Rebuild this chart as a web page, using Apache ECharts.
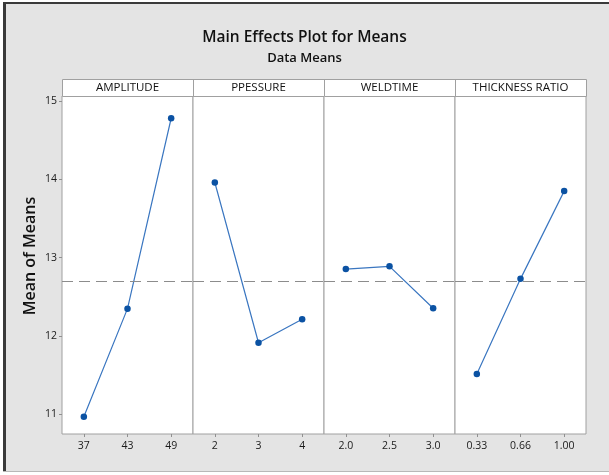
<!DOCTYPE html>
<html>
<head>
<meta charset="utf-8">
<script src="https://cdn.jsdelivr.net/npm/echarts@6/dist/echarts.min.js"></script>
<style>html,body{margin:0;padding:0;}#chart{width:609px;height:475px;}</style>
</head>
<body>
<div id="chart"></div>
<script>
// ---- data ----
const panelNames = ['AMPLITUDE', 'PPESSURE', 'WELDTIME', 'THICKNESS RATIO'];
const amplitudeLevels = ['37', '43', '49'];
const amplitudeMeans = [10.97, 12.35, 14.78];
const pressureLevels = ['2', '3', '4'];
const pressureMeans = [13.96, 11.915, 12.215];
const weldtimeLevels = ['2.0', '2.5', '3.0'];
const weldtimeMeans = [12.855, 12.89, 12.355];
const thicknessLevels = ['0.33', '0.66', '1.00'];
const thicknessMeans = [11.515, 12.73, 13.85];
const yTickValues = [11, 12, 13, 14, 15];

const levelsList = [amplitudeLevels, pressureLevels, weldtimeLevels, thicknessLevels];
const meansList = [amplitudeMeans, pressureMeans, weldtimeMeans, thicknessMeans];
const grandMean = amplitudeMeans.reduce((a, b) => a + b, 0) / amplitudeMeans.length;

// ---- layout ----
const FONT = 'Open Sans';
const panelLeft = 62, panelW = 131, gridTop = 96, gridH = 338;
const headerTop = 79;
const borderCol = '#a0a0a0';

const grids = [], xAxes = [], yAxes = [], series = [], graphics = [];
panelNames.forEach((name, i) => {
  grids.push({
    left: panelLeft + i * panelW, top: gridTop, width: panelW, height: gridH,
    show: true, backgroundColor: '#ffffff', borderColor: borderCol, borderWidth: 1
  });
  xAxes.push({
    type: 'category', gridIndex: i, data: levelsList[i], boundaryGap: true,
    axisLine: { show: false },
    axisTick: { show: true, alignWithLabel: true, length: 3, lineStyle: { color: '#909090' } },
    axisLabel: { fontFamily: FONT, fontSize: 10.5, color: '#1a1a1a', margin: 7 },
    splitLine: { show: false }
  });
  yAxes.push({
    type: 'value', gridIndex: i, min: 10.75, max: 15.064,
    axisLine: { show: false },
    axisTick: { show: i === 0, length: 3, customValues: yTickValues, lineStyle: { color: '#909090' } },
    axisLabel: { show: i === 0, customValues: yTickValues, fontFamily: FONT, fontSize: 10.5, color: '#1a1a1a', margin: 5 },
    splitLine: { show: false }
  });
  series.push({
    type: 'line', xAxisIndex: i, yAxisIndex: i, data: meansList[i],
    symbol: 'circle', symbolSize: 6.5,
    lineStyle: { color: '#3a76c0', width: 1.2 },
    itemStyle: { color: '#0b52a3' },
    animation: false,
    markLine: {
      silent: true, symbol: 'none', label: { show: false },
      lineStyle: { color: '#8c8c8c', width: 1, type: [11, 6] },
      data: [{ yAxis: grandMean }]
    }
  });
});

// header strip
graphics.push({
  type: 'rect', shape: { x: panelLeft + 0.5, y: headerTop + 0.5, width: panelW * 4, height: gridTop - headerTop },
  style: { fill: '#ffffff', stroke: borderCol, lineWidth: 1 }, z: 10
});
panelNames.forEach((name, i) => {
  if (i > 0) {
    graphics.push({
      type: 'line', shape: { x1: panelLeft + i * panelW + 0.5, y1: headerTop, x2: panelLeft + i * panelW + 0.5, y2: gridTop },
      style: { stroke: borderCol, lineWidth: 1 }, z: 11
    });
  }
  graphics.push({
    type: 'text', x: panelLeft + i * panelW + panelW / 2, y: (headerTop + gridTop) / 2 + 0.5,
    style: { text: name, font: '11.5px "' + FONT + '"', fill: '#111111', align: 'center', verticalAlign: 'middle' }, z: 12
  });
});
// y title
graphics.push({
  type: 'text', x: 30, y: 256, rotation: Math.PI / 2,
  style: { text: 'Mean of Means', font: '600 16px "' + FONT + '"', fill: '#111111', align: 'center', verticalAlign: 'middle' }, z: 12
});
// frame
graphics.push({ type: 'rect', shape: { x: 0, y: 0, width: 609, height: 2 }, style: { fill: '#ffffff' }, z: 20 });
graphics.push({ type: 'rect', shape: { x: 0, y: 0, width: 3, height: 475 }, style: { fill: '#ffffff' }, z: 20 });
graphics.push({ type: 'rect', shape: { x: 0, y: 472, width: 609, height: 3 }, style: { fill: '#ffffff' }, z: 20 });
graphics.push({ type: 'line', shape: { x1: 3, y1: 3, x2: 609, y2: 3 }, style: { stroke: '#3a3a3a', lineWidth: 2 }, z: 21 });
graphics.push({ type: 'line', shape: { x1: 4.5, y1: 2, x2: 4.5, y2: 472 }, style: { stroke: '#3a3a3a', lineWidth: 3 }, z: 21 });
graphics.push({ type: 'line', shape: { x1: 3, y1: 471.5, x2: 609, y2: 471.5 }, style: { stroke: '#b8b8b8', lineWidth: 1 }, z: 21 });

const chart = echarts.init(document.getElementById('chart'), null, { renderer: 'canvas' });
chart.setOption({
  animation: false,
  backgroundColor: '#e4e4e4',
  title: [
    { text: 'Main Effects Plot for Means', left: 'center', top: 25,
      textStyle: { fontFamily: FONT, fontSize: 15.5, fontWeight: 600, color: '#111111' } },
    { text: 'Data Means', left: 'center', top: 47,
      textStyle: { fontFamily: FONT, fontSize: 13, fontWeight: 600, color: '#111111' } }
  ],
  grid: grids,
  xAxis: xAxes,
  yAxis: yAxes,
  series: series,
  graphic: graphics
});
</script>
</body>
</html>
